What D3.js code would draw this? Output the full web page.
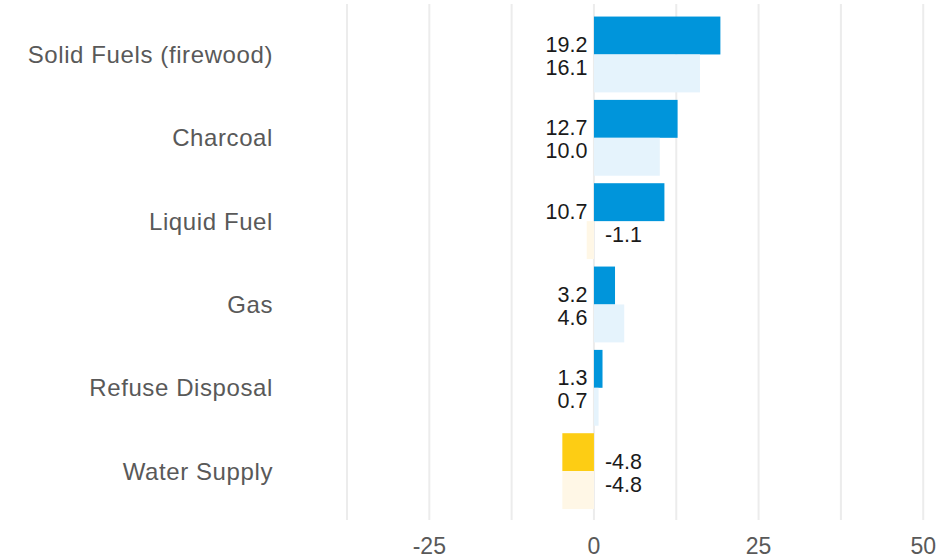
<!DOCTYPE html>
<html>
<head>
<meta charset="utf-8">
<script src="https://cdn.jsdelivr.net/npm/d3@7"></script>
<style>
  body { margin: 0; background: #fff; }
  text { font-family: "Liberation Sans", Arial, sans-serif; }
</style>
</head>
<body>
<script>
var categories = ['Solid Fuels (firewood)', 'Charcoal', 'Liquid Fuel', 'Gas', 'Refuse Disposal', 'Water Supply'];
var currentValues = [19.2, 12.7, 10.7, 3.2, 1.3, -4.8];
var previousValues = [16.1, 10.0, -1.1, 4.6, 0.7, -4.8];
var tickValues = [-25, 0, 25, 50];
var gridValues = [-37.5, -25, -12.5, 0, 12.5, 25, 37.5, 50];

var width = 941;
var height = 559;
var posColors = {current: '#0095db', previous: '#e5f3fc'};
var negColors = {current: '#fdcd14', previous: '#fff7e6'};
var labelGray = '#595959';

function fmt(v) {
    // plain hyphen like the original, not the unicode minus
    return d3.format('.1f')(v).replace('\u2212', '-');
}

function main() {
    var svg = d3.select('body')
	.append('svg')
	.attr('width', width)
	.attr('height', height);

    var x = d3.scaleLinear()
	.domain([-37.5, 52.7])
	.range([347, 941]);

    var y = d3.scaleBand()
	.domain(categories)
	.range([12.8, 512.8])
	.paddingInner(0.09)
	.paddingOuter(0.045);

    var sub = d3.scaleBand()
	.domain(['current', 'previous'])
	.range([0, y.bandwidth()]);

    // gridlines
    svg.selectAll('.grid')
	.data(gridValues)
	.enter().append('line')
	.attr('class', 'grid')
	.attr('x1', function(d) { return x(d); })
	.attr('x2', function(d) { return x(d); })
	.attr('y1', 4)
	.attr('y2', 520)
	.style('stroke', '#ececec')
	.style('stroke-width', 2);

    var rows = [];
    categories.forEach(function(c, i) {
	rows.push({cat: c, series: 'current', value: currentValues[i]});
	rows.push({cat: c, series: 'previous', value: previousValues[i]});
    });

    svg.selectAll('.bar')
	.data(rows)
	.enter().append('rect')
	.attr('class', 'bar')
	.attr('x', function(d) { return x(Math.min(0, d.value)); })
	.attr('width', function(d) { return Math.abs(x(d.value) - x(0)); })
	.attr('y', function(d) { return y(d.cat) + sub(d.series); })
	.attr('height', sub.bandwidth())
	.style('fill', function(d) {
	    return d.value < 0 ? negColors[d.series] : posColors[d.series];
	});

    svg.selectAll('.val')
	.data(rows)
	.enter().append('text')
	.attr('class', 'val')
	.attr('x', function(d) { return d.value < 0 ? x(0) + 11 : x(0) - 6.5; })
	.attr('y', function(d) {
	    if (d.series == 'current') {
		return y(d.cat) + sub.bandwidth() - 2.5;
	    }
	    return y(d.cat) + sub.bandwidth() + 20.5;
	})
	.attr('text-anchor', function(d) { return d.value < 0 ? 'start' : 'end'; })
	.style('font-size', '21.5px')
	.style('fill', '#1a1a1a')
	.text(function(d) { return fmt(d.value); });

    svg.selectAll('.cat')
	.data(categories)
	.enter().append('text')
	.attr('class', 'cat')
	.attr('x', 273)
	.attr('y', function(d) { return y(d) + y.bandwidth() / 2; })
	.attr('dy', '0.35em')
	.attr('text-anchor', 'end')
	.style('font-size', '24px')
	.style('letter-spacing', '0.6px')
	.style('fill', labelGray)
	.text(function(d) { return d; });

    svg.selectAll('.tick')
	.data(tickValues)
	.enter().append('text')
	.attr('class', 'tick')
	.attr('x', function(d) { return x(d); })
	.attr('y', 546)
	.attr('dy', '0.35em')
	.attr('text-anchor', 'middle')
	.style('font-size', '23px')
	.style('fill', labelGray)
	.text(function(d) { return d; });
}

main();
</script>
</body>
</html>
